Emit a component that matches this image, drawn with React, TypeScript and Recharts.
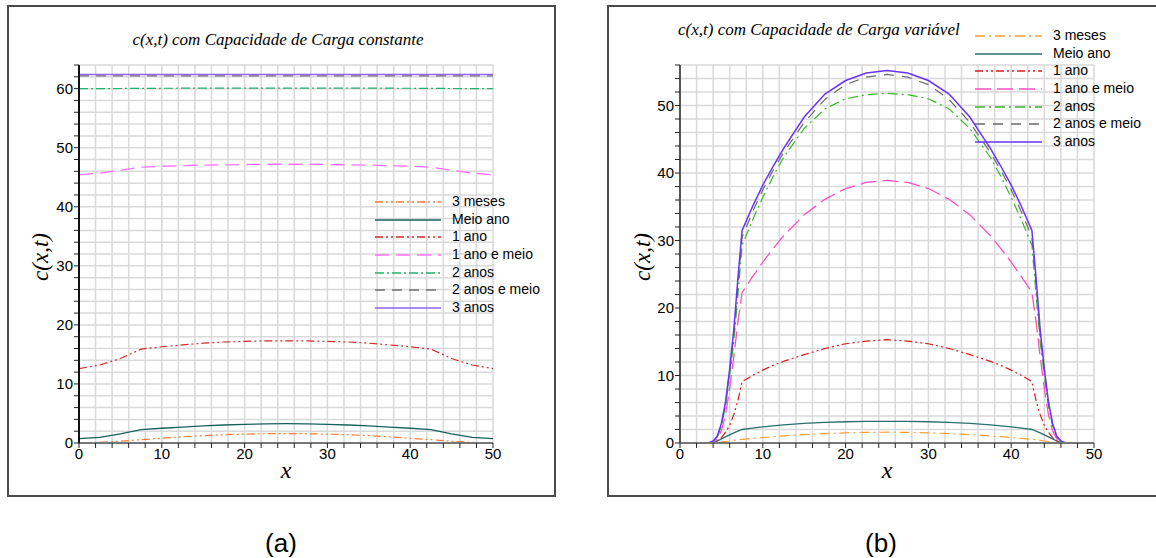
import React from "react";
import { LineChart, Line, XAxis, YAxis, CartesianGrid, Legend } from "recharts";

// ---- (a) capacidade de carga constante ----
const xConst = [0, 2.5, 5, 7.5, 10, 12.5, 15, 17.5, 20, 22.5, 25, 27.5, 30, 32.5, 35, 37.5, 40, 42.5, 45, 47.5, 50];
const meses3Const = [0.05, 0.1, 0.3, 0.57, 0.8, 1.05, 1.25, 1.4, 1.5, 1.57, 1.6, 1.57, 1.5, 1.4, 1.25, 1.05, 0.8, 0.57, 0.3, 0.1, 0.05];
const meioAnoConst = [0.75, 0.95, 1.55, 2.27, 2.5, 2.7, 2.9, 3.05, 3.15, 3.25, 3.28, 3.25, 3.15, 3.05, 2.9, 2.7, 2.5, 2.27, 1.55, 0.95, 0.75];
const ano1Const = [12.6, 13.2, 14.3, 15.9, 16.3, 16.6, 16.9, 17.1, 17.2, 17.3, 17.3, 17.3, 17.2, 17.1, 16.9, 16.6, 16.3, 15.9, 14.3, 13.2, 12.6];
const ano15Const = [45.4, 45.7, 46.2, 46.7, 46.85, 46.95, 47.05, 47.1, 47.15, 47.2, 47.2, 47.2, 47.15, 47.1, 47.05, 46.95, 46.85, 46.7, 46.2, 45.7, 45.4];
const anos2Const = [60.0, 60.0, 60.02, 60.05, 60.06, 60.07, 60.08, 60.08, 60.09, 60.09, 60.09, 60.09, 60.09, 60.08, 60.08, 60.07, 60.06, 60.05, 60.02, 60.0, 60.0];
const anos25Const = [62.15, 62.15, 62.15, 62.15, 62.15, 62.15, 62.15, 62.15, 62.15, 62.15, 62.15, 62.15, 62.15, 62.15, 62.15, 62.15, 62.15, 62.15, 62.15, 62.15, 62.15];
const anos3Const = [62.4, 62.4, 62.4, 62.4, 62.4, 62.4, 62.4, 62.4, 62.4, 62.4, 62.4, 62.4, 62.4, 62.4, 62.4, 62.4, 62.4, 62.4, 62.4, 62.4, 62.4];

// ---- (b) capacidade de carga variável ----
const xVar = [0, 2.5, 3.5, 4, 4.5, 5, 5.5, 6, 6.5, 7, 7.5, 8.75, 10, 11.25, 12.5, 15, 17.5, 20, 22.5, 25, 27.5, 30, 32.5, 35, 37.5, 38.75, 40, 41.25, 42.5, 43, 43.5, 44, 44.5, 45, 45.5, 46, 46.5, 47.5, 50];
const meses3Var = [0, 0, 0, 0, 0.05, 0.15, 0.22, 0.3, 0.4, 0.48, 0.55, 0.68, 0.8, 0.93, 1.05, 1.25, 1.4, 1.5, 1.58, 1.6, 1.58, 1.5, 1.4, 1.25, 1.05, 0.93, 0.8, 0.68, 0.55, 0.48, 0.4, 0.3, 0.22, 0.15, 0.05, 0, 0, 0, 0];
const meioAnoVar = [0, 0, 0, 0.05, 0.3, 0.6, 0.9, 1.2, 1.5, 1.75, 2.0, 2.2, 2.4, 2.55, 2.7, 2.9, 3.05, 3.15, 3.2, 3.2, 3.2, 3.15, 3.05, 2.9, 2.7, 2.55, 2.4, 2.2, 2.0, 1.75, 1.5, 1.2, 0.9, 0.6, 0.3, 0.05, 0, 0, 0];
const ano1Var = [0, 0, 0.02, 0.1, 0.3, 0.8, 1.6, 2.6, 4.2, 6.3, 9.1, 10.0, 10.8, 11.5, 12.1, 13.1, 14.0, 14.7, 15.1, 15.3, 15.1, 14.7, 14.0, 13.1, 12.1, 11.5, 10.8, 10.0, 9.1, 6.3, 4.2, 2.6, 1.6, 0.8, 0.3, 0.1, 0.02, 0, 0];
const ano15Var = [0, 0, 0.03, 0.2, 0.6, 1.8, 4.2, 8.1, 12.8, 18, 22.3, 24.6, 26.8, 28.8, 30.7, 33.8, 36.1, 37.7, 38.6, 38.9, 38.6, 37.7, 36.1, 33.8, 30.7, 28.8, 26.8, 24.6, 22.3, 18, 12.8, 8.1, 4.2, 1.8, 0.6, 0.2, 0.03, 0, 0];
const anos2Var = [0, 0, 0.04, 0.25, 0.9, 2.6, 5.5, 10, 15, 22, 29.3, 33.0, 36.4, 39.5, 42.3, 46.6, 49.5, 51.0, 51.6, 51.8, 51.6, 51.0, 49.5, 46.6, 42.3, 39.5, 36.4, 33.0, 29.3, 22, 15, 10, 5.5, 2.6, 0.9, 0.25, 0.04, 0, 0];
const anos25Var = [0, 0, 0.05, 0.28, 0.95, 2.7, 5.8, 10.5, 16, 23.5, 30.5, 34.2, 37.5, 40.4, 43.0, 47.5, 50.9, 53.1, 54.2, 54.6, 54.2, 53.1, 50.9, 47.5, 43.0, 40.4, 37.5, 34.2, 30.5, 23.5, 16, 10.5, 5.8, 2.7, 0.95, 0.28, 0.05, 0, 0];
const anos3Var = [0, 0, 0.05, 0.3, 1.0, 2.9, 6.1, 11, 16.8, 24.5, 31.5, 35.0, 38.2, 41.0, 43.6, 48.3, 51.7, 53.7, 54.8, 55.2, 54.8, 53.7, 51.7, 48.3, 43.6, 41.0, 38.2, 35.0, 31.5, 24.5, 16.8, 11, 6.1, 2.9, 1.0, 0.3, 0.05, 0, 0];

const seriesNames = ["3 meses", "Meio ano", "1 ano", "1 ano e meio", "2 anos", "2 anos e meio", "3 anos"];
const xTicks = [0, 2, 4, 6, 8, 10, 12, 14, 16, 18, 20, 22, 24, 26, 28, 30, 32, 34, 36, 38, 40, 42, 44, 46, 48, 50];
const yTicksConst = [0, 2, 4, 6, 8, 10, 12, 14, 16, 18, 20, 22, 24, 26, 28, 30, 32, 34, 36, 38, 40, 42, 44, 46, 48, 50, 52, 54, 56, 58, 60, 62, 64];
const yTicksVar = [0, 2, 4, 6, 8, 10, 12, 14, 16, 18, 20, 22, 24, 26, 28, 30, 32, 34, 36, 38, 40, 42, 44, 46, 48, 50, 52, 54, 56];

const keys = ["s0", "s1", "s2", "s3", "s4", "s5", "s6"];

const constData = xConst.map((x, i) => ({
  x,
  s0: meses3Const[i],
  s1: meioAnoConst[i],
  s2: ano1Const[i],
  s3: ano15Const[i],
  s4: anos2Const[i],
  s5: anos25Const[i],
  s6: anos3Const[i],
}));

const varData = xVar.map((x, i) => ({
  x,
  s0: meses3Var[i],
  s1: meioAnoVar[i],
  s2: ano1Var[i],
  s3: ano15Var[i],
  s4: anos2Var[i],
  s5: anos25Var[i],
  s6: anos3Var[i],
}));

type Style = { color: string; dash: string; width: number };

const constStyles: Style[] = [
  { color: "#ff7a3a", dash: "8 3 2 3 2 3", width: 1.2 },
  { color: "#17605a", dash: "", width: 1.3 },
  { color: "#d42a2a", dash: "8 3 2 3 2 3", width: 1.2 },
  { color: "#ff70ff", dash: "14 7", width: 1.3 },
  { color: "#20b070", dash: "9 3 2 3", width: 1.2 },
  { color: "#707070", dash: "10 7", width: 1.3 },
  { color: "#8a66f0", dash: "", width: 1.6 },
];

const varStyles: Style[] = [
  { color: "#ff9f3a", dash: "10 4 2 4", width: 1.2 },
  { color: "#2b6e6e", dash: "", width: 1.3 },
  { color: "#dd1c1c", dash: "8 3 2 3 2 3", width: 1.2 },
  { color: "#ff4fc0", dash: "16 6", width: 1.3 },
  { color: "#33bb22", dash: "10 4 2 4", width: 1.2 },
  { color: "#6a6a6a", dash: "10 8", width: 1.2 },
  { color: "#6633ff", dash: "", width: 1.5 },
];

const sans = "'Liberation Sans', Arial, Helvetica, sans-serif";
const serif = "'Liberation Serif', 'Times New Roman', serif";

function LegendBox({ styles, sample }: { styles: Style[]; sample: number }) {
  return (
    <div style={{ fontFamily: sans, fontSize: 14, color: "#000", lineHeight: "17.7px" }}>
      {seriesNames.map((n, i) => (
        <div key={n} style={{ display: "flex", alignItems: "center", height: 17.7, whiteSpace: "nowrap" }}>
          <svg width={sample} height={6} style={{ marginRight: 11 }}>
            <line
              x1={0}
              y1={3}
              x2={sample}
              y2={3}
              stroke={styles[i].color}
              strokeWidth={1.5}
              strokeDasharray={styles[i].dash || undefined}
            />
          </svg>
          <span>{n}</span>
        </div>
      ))}
    </div>
  );
}

function Panel({
  data,
  styles,
  yTicks,
  yMax,
  margin,
  legendPos,
  sample,
  yAxisColor,
}: {
  data: any[];
  styles: Style[];
  yTicks: number[];
  yMax: number;
  margin: { top: number; right: number; bottom: number; left: number };
  legendPos: { left: number; top: number };
  sample: number;
  yAxisColor: string;
}) {
  return (
    <LineChart width={556} height={500} data={data} margin={margin}>
      <CartesianGrid stroke="#d9d9d9" strokeWidth={1.5} />
      <XAxis
        dataKey="x"
        type="number"
        domain={[0, 50]}
        ticks={xTicks}
        interval={0}
        tickFormatter={(v: number) => (v % 10 === 0 ? String(v) : "")}
        tick={{ fill: "#000", fontSize: 15, fontFamily: sans }}
        tickSize={5}
        tickMargin={0}
        axisLine={{ stroke: "#777", strokeWidth: 2 }}
        tickLine={{ stroke: "#222" }}
        height={30}
      />
      <YAxis
        type="number"
        domain={[0, yMax]}
        ticks={yTicks}
        interval={0}
        tickFormatter={(v: number) => (v % 10 === 0 ? String(v) : "")}
        tick={{ fill: "#000", fontSize: 15, fontFamily: sans }}
        tickSize={5}
        tickMargin={1}
        axisLine={{ stroke: yAxisColor, strokeWidth: 2 }}
        tickLine={{ stroke: "#222" }}
        width={40}
      />
      <Legend
        layout="vertical"
        align="center"
        verticalAlign="middle"
        wrapperStyle={{ left: legendPos.left, top: legendPos.top, width: "auto" }}
        content={() => <LegendBox styles={styles} sample={sample} />}
      />
      {keys.map((k, i) => (
        <Line
          key={k}
          dataKey={k}
          name={seriesNames[i]}
          type="linear"
          stroke={styles[i].color}
          strokeWidth={styles[i].width}
          strokeDasharray={styles[i].dash || undefined}
          dot={false}
          activeDot={false}
          isAnimationActive={false}
        />
      ))}
    </LineChart>
  );
}

export default function App() {
  const box: React.CSSProperties = {
    position: "absolute",
    border: "2px solid #4a4a4a",
    boxSizing: "border-box",
    background: "#fff",
  };
  const yLabel: React.CSSProperties = {
    position: "absolute",
    fontFamily: serif,
    fontStyle: "italic",
    fontSize: 23,
    transform: "translate(-50%, -50%) rotate(-90deg)",
    whiteSpace: "nowrap",
  };
  const xLabel: React.CSSProperties = {
    position: "absolute",
    fontFamily: serif,
    fontStyle: "italic",
    fontSize: 24,
    transform: "translate(-50%, -50%)",
  };
  const title: React.CSSProperties = {
    position: "absolute",
    fontFamily: serif,
    fontStyle: "italic",
    fontSize: 17,
    whiteSpace: "nowrap",
  };
  const panelLabel: React.CSSProperties = {
    position: "absolute",
    top: 543,
    transform: "translate(-50%, -50%)",
    fontFamily: sans,
    fontSize: 26,
  };
  return (
    <div
      style={{
        position: "absolute",
        left: 0,
        top: 0,
        width: 1156,
        height: 558,
        overflow: "hidden",
        background: "#fff",
      }}
    >
      <div style={{ ...box, left: 7, top: 5, width: 549, height: 492 }} />
      <div style={{ ...box, left: 607, top: 5, width: 560, height: 492 }} />

      <div style={{ position: "absolute", left: 0, top: 0 }}>
        <Panel
          data={constData}
          styles={constStyles}
          yTicks={yTicksConst}
          yMax={64}
          margin={{ top: 65, right: 63, bottom: 27, left: 39 }}
          legendPos={{ left: 375, top: 193 }}
          sample={66}
          yAxisColor="#111"
        />
      </div>
      <div style={{ position: "absolute", left: 600, top: 0 }}>
        <Panel
          data={varData}
          styles={varStyles}
          yTicks={yTicksVar}
          yMax={56}
          margin={{ top: 65, right: 62, bottom: 27, left: 40 }}
          legendPos={{ left: 375, top: 27 }}
          sample={67}
          yAxisColor="#555"
        />
      </div>

      <div style={{ ...title, left: 278, top: 40, transform: "translate(-50%, -50%)" }}>
        c(x,t) com Capacidade de Carga constante
      </div>
      <div style={{ ...title, left: 678, top: 30, transform: "translateY(-50%)" }}>
        c(x,t) com Capacidade de Carga variável
      </div>

      <div style={{ ...yLabel, left: 41, top: 257 }}>c(x,t)</div>
      <div style={{ ...yLabel, left: 643, top: 257 }}>c(x,t)</div>
      <div style={{ ...xLabel, left: 286, top: 470 }}>x</div>
      <div style={{ ...xLabel, left: 887, top: 470 }}>x</div>

      <div style={{ ...panelLabel, left: 281 }}>(a)</div>
      <div style={{ ...panelLabel, left: 881 }}>(b)</div>
    </div>
  );
}
